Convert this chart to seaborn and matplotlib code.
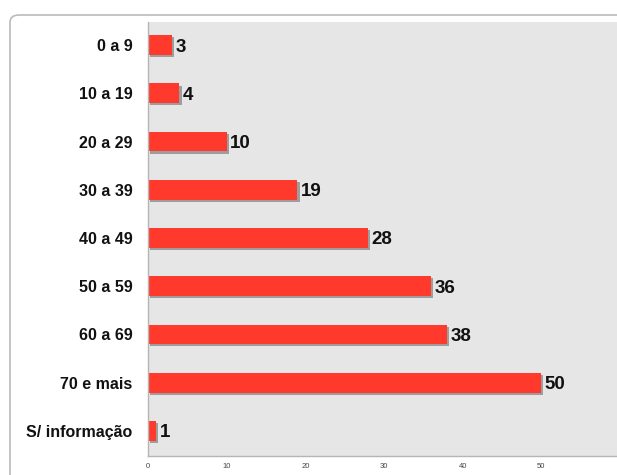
import matplotlib
matplotlib.use('Agg')
import matplotlib.pyplot as plt
import matplotlib.patheffects as pe
from matplotlib.patches import FancyBboxPatch
import seaborn as sns
import pandas as pd

faixas = ['0 a 9', '10 a 19', '20 a 29', '30 a 39', '40 a 49',
          '50 a 59', '60 a 69', '70 e mais', 'S/ informação']
casos = [3, 4, 10, 19, 28, 36, 38, 50, 1]
ticks = [0, 10, 20, 30, 40, 50]

df = pd.DataFrame({'faixa': faixas, 'casos': casos})

sns.set_style('white')
plt.rcParams['font.family'] = ['Liberation Sans', 'DejaVu Sans']

W, H = 617, 475
fig = plt.figure(figsize=(W / 100, H / 100), dpi=100)

# card frame behind the chart
card = FancyBboxPatch((10 / W, -0.1), 1.2, (H - 15) / H + 0.1,
                      boxstyle='round,pad=0,rounding_size=0.015',
                      transform=fig.transFigure, fc='white', ec='#bbbbbb', lw=1.2,
                      zorder=-5)
fig.patches.append(card)

ax = fig.add_axes([148 / W, (H - 456) / H, (620 - 148) / W, (456 - 22) / H])
ax.set_zorder(2)
ax.set_facecolor('#e6e6e6')

sns.barplot(data=df, y='faixa', x='casos', orient='h', color='#ff3a2d',
            width=0.41, saturation=1, linewidth=0, ax=ax)

for bar, v in zip(ax.patches, casos):
    bar.set_path_effects([pe.SimplePatchShadow(offset=(1.5, -1.5), shadow_rgbFace='#444444', alpha=0.45),
                          pe.Normal()])
    ax.text(bar.get_width() + 0.45, bar.get_y() + bar.get_height() / 2 + 0.04, str(v),
            va='center', ha='left', fontsize=13.5, fontweight='bold', color='#111111')

ax.set_xlim(0, 60)
ax.set_ylim(8.52, -0.48)
ax.set_xticks(ticks)
ax.set_xticklabels([str(t) for t in ticks], fontsize=5.5, color='#444444')
ax.tick_params(axis='x', length=0, pad=5)
ax.tick_params(axis='y', length=0, pad=11, labelsize=11.5)
for lbl in ax.get_yticklabels():
    lbl.set_fontweight('bold')
    lbl.set_color('#111111')
ax.set_xlabel('')
ax.set_ylabel('')

for s in ['top', 'right']:
    ax.spines[s].set_visible(False)
for s in ['left', 'bottom']:
    ax.spines[s].set_color('#b5b5b5')
    ax.spines[s].set_linewidth(1.0)

fig.savefig('out.png', dpi=100)
